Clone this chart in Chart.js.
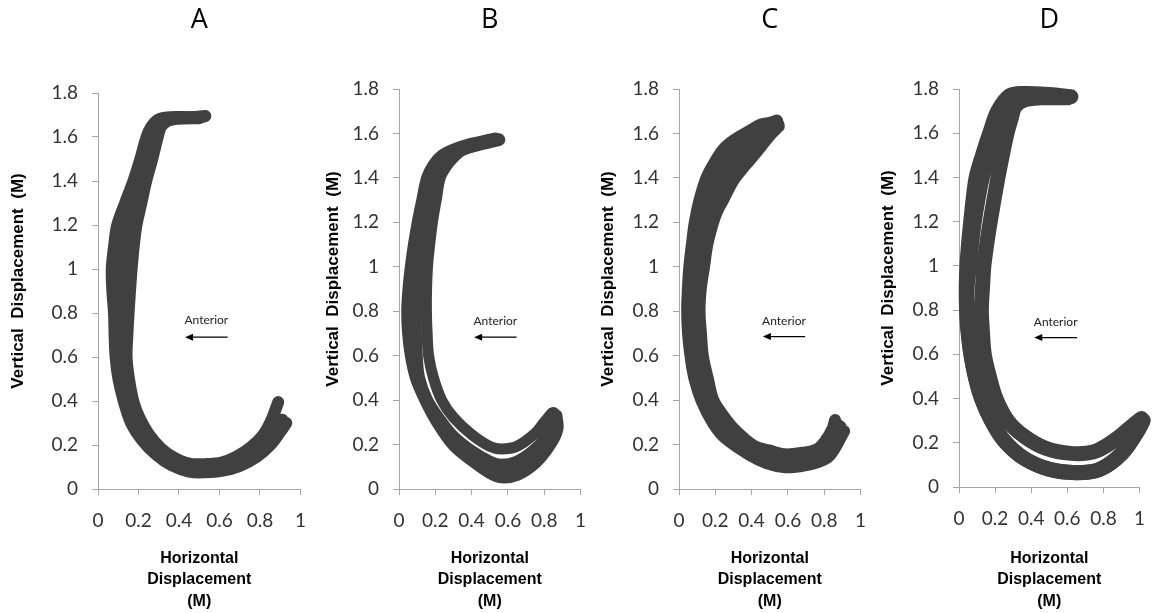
<!DOCTYPE html>
<html>
<head>
<meta charset="utf-8">
<script src="https://cdn.jsdelivr.net/npm/chart.js@4.4.1/dist/chart.umd.min.js"></script>
<style>
    html, body { margin: 0; padding: 0; background: #fff; }
    #wrap { position: relative; width: 1159px; height: 613px; overflow: hidden; }
    .panel { position: absolute; top: 0; height: 613px; }
</style>
</head>
<body>
<div id="wrap">
    <div class="panel" id="pA"><canvas id="cA"></canvas></div>
    <div class="panel" id="pB"><canvas id="cB"></canvas></div>
    <div class="panel" id="pC"><canvas id="cC"></canvas></div>
    <div class="panel" id="pD"><canvas id="cD"></canvas></div>
</div>
<script>
// axis ticks (metres)
const xTicks = [0, 0.2, 0.4, 0.6, 0.8, 1];
const xTickLabels = ['0', '0.2', '0.4', '0.6', '0.8', '1'];
const yTicks = [0, 0.2, 0.4, 0.6, 0.8, 1, 1.2, 1.4, 1.6, 1.8];
const yTickLabels = ['0', '0.2', '0.4', '0.6', '0.8', '1', '1.2', '1.4', '1.6', '1.8'];
const panelNames = ['A', 'B', 'C', 'D'];
const yTitle = 'Vertical  Displacement  (M)';
const xTitle = ['Horizontal', 'Displacement', '(M)'];

// Panel A - outer, middle and inner trials of the band
const aOuterX = [0.52, 0.44, 0.36, 0.3, 0.262, 0.24, 0.209, 0.175, 0.134, 0.095, 0.079, 0.068, 0.071, 0.079, 0.082, 0.087, 0.101, 0.127, 0.164, 0.219, 0.289, 0.363, 0.45, 0.53, 0.61, 0.698, 0.782, 0.855, 0.9, 0.93];
const aOuterY = [1.692, 1.69, 1.69, 1.68, 1.645, 1.6, 1.5, 1.4, 1.3, 1.2, 1.1, 1.0, 0.9, 0.8, 0.7, 0.6, 0.5, 0.4, 0.299, 0.221, 0.155, 0.108, 0.079, 0.076, 0.082, 0.104, 0.145, 0.204, 0.26, 0.3];
const aMidX = [0.53, 0.46, 0.38, 0.32, 0.285, 0.268, 0.238, 0.206, 0.174, 0.143, 0.128, 0.117, 0.115, 0.115, 0.114, 0.114, 0.127, 0.15, 0.185, 0.235, 0.3, 0.37, 0.45, 0.53, 0.61, 0.69, 0.77, 0.84, 0.88, 0.91];
const aMidY = [1.695, 1.69, 1.688, 1.676, 1.645, 1.6, 1.5, 1.4, 1.3, 1.2, 1.1, 1.0, 0.9, 0.8, 0.7, 0.6, 0.5, 0.4, 0.31, 0.235, 0.17, 0.125, 0.097, 0.095, 0.1, 0.125, 0.165, 0.22, 0.27, 0.315];
const aInnerX = [0.5, 0.42, 0.37, 0.34, 0.31, 0.295, 0.268, 0.238, 0.214, 0.19, 0.176, 0.166, 0.158, 0.151, 0.145, 0.141, 0.153, 0.174, 0.206, 0.251, 0.311, 0.377, 0.45, 0.53, 0.61, 0.682, 0.755, 0.815, 0.855, 0.89];
const aInnerY = [1.685, 1.684, 1.68, 1.672, 1.645, 1.6, 1.5, 1.4, 1.3, 1.2, 1.1, 1.0, 0.9, 0.8, 0.7, 0.6, 0.5, 0.4, 0.321, 0.249, 0.185, 0.142, 0.115, 0.113, 0.12, 0.146, 0.19, 0.245, 0.31, 0.395];

// Panel B - outer loop (two trials) and the separate inner loop
const bOuterX = [0.53, 0.45, 0.37, 0.3, 0.24, 0.195, 0.158, 0.131, 0.106, 0.085, 0.068, 0.055, 0.048, 0.053, 0.068, 0.096, 0.148, 0.214, 0.3, 0.4, 0.5, 0.564, 0.65, 0.75, 0.83, 0.87, 0.865];
const bOuterY = [1.575, 1.56, 1.545, 1.525, 1.5, 1.46, 1.4, 1.3, 1.2, 1.1, 1.0, 0.9, 0.8, 0.7, 0.6, 0.5, 0.4, 0.3, 0.201, 0.132, 0.075, 0.055, 0.065, 0.119, 0.2, 0.27, 0.33];
const bMidX = [0.55, 0.46, 0.38, 0.31, 0.25, 0.215, 0.19, 0.168, 0.145, 0.127, 0.112, 0.1, 0.092, 0.09, 0.095, 0.108, 0.152, 0.232, 0.3, 0.4, 0.5, 0.564, 0.65, 0.75, 0.81, 0.85];
const bMidY = [1.572, 1.555, 1.538, 1.515, 1.48, 1.44, 1.4, 1.3, 1.2, 1.1, 1.0, 0.9, 0.8, 0.7, 0.6, 0.5, 0.4, 0.3, 0.233, 0.168, 0.121, 0.107, 0.121, 0.176, 0.235, 0.34];
const bInnerX = [0.5, 0.42, 0.35, 0.3, 0.26, 0.227, 0.205, 0.184, 0.169, 0.157, 0.152, 0.151, 0.155, 0.163, 0.19, 0.235, 0.3, 0.4, 0.5, 0.564, 0.65, 0.75, 0.8, 0.84];
const bInnerY = [1.56, 1.545, 1.525, 1.49, 1.45, 1.4, 1.3, 1.2, 1.1, 1.0, 0.9, 0.8, 0.7, 0.6, 0.5, 0.4, 0.322, 0.245, 0.192, 0.18, 0.192, 0.25, 0.3, 0.34];

// Panel C - four trials spread across a wide band
const c1X = [0.54, 0.5, 0.45, 0.39, 0.32, 0.25, 0.2, 0.151, 0.113, 0.087, 0.071, 0.057, 0.049, 0.045, 0.05, 0.063, 0.084, 0.123, 0.188, 0.256, 0.388, 0.485, 0.586, 0.68, 0.76, 0.829, 0.91];
const c1Y = [1.658, 1.648, 1.64, 1.612, 1.579, 1.534, 1.475, 1.4, 1.3, 1.2, 1.1, 1.0, 0.9, 0.8, 0.7, 0.6, 0.5, 0.4, 0.296, 0.228, 0.154, 0.116, 0.098, 0.104, 0.12, 0.149, 0.26];
const c2X = [0.543, 0.5, 0.45, 0.39, 0.328, 0.268, 0.223, 0.182, 0.145, 0.121, 0.099, 0.084, 0.073, 0.068, 0.074, 0.086, 0.109, 0.145, 0.206, 0.273, 0.395, 0.488, 0.586, 0.68, 0.759, 0.826, 0.89];
const c2Y = [1.649, 1.629, 1.606, 1.568, 1.532, 1.488, 1.432, 1.367, 1.283, 1.2, 1.1, 1.0, 0.9, 0.8, 0.7, 0.6, 0.5, 0.4, 0.307, 0.241, 0.168, 0.135, 0.117, 0.123, 0.139, 0.167, 0.28];
const c3X = [0.547, 0.5, 0.45, 0.39, 0.337, 0.287, 0.247, 0.212, 0.178, 0.154, 0.128, 0.111, 0.096, 0.09, 0.097, 0.108, 0.133, 0.167, 0.226, 0.29, 0.404, 0.492, 0.586, 0.68, 0.758, 0.822, 0.875];
const c3Y = [1.641, 1.61, 1.573, 1.524, 1.484, 1.441, 1.388, 1.333, 1.267, 1.2, 1.1, 1.0, 0.9, 0.8, 0.7, 0.6, 0.5, 0.4, 0.319, 0.254, 0.181, 0.155, 0.137, 0.144, 0.158, 0.19, 0.29];
const c4X = [0.55, 0.5, 0.45, 0.39, 0.345, 0.305, 0.27, 0.243, 0.21, 0.188, 0.156, 0.138, 0.12, 0.113, 0.121, 0.131, 0.158, 0.189, 0.244, 0.307, 0.411, 0.495, 0.586, 0.68, 0.757, 0.805, 0.845, 0.86];
const c4Y = [1.632, 1.591, 1.539, 1.48, 1.437, 1.395, 1.345, 1.3, 1.25, 1.2, 1.1, 1.0, 0.9, 0.8, 0.7, 0.6, 0.5, 0.4, 0.33, 0.267, 0.195, 0.174, 0.156, 0.163, 0.177, 0.215, 0.27, 0.31];

// Panel D - two separate loops, the outer one made of two trials
const dOuterX = [0.62, 0.5, 0.36, 0.28, 0.215, 0.17, 0.13, 0.095, 0.078, 0.065, 0.053, 0.044, 0.04, 0.042, 0.05, 0.066, 0.09, 0.125, 0.18, 0.25, 0.36, 0.5, 0.65, 0.78, 0.9, 0.98, 1.02];
const dOuterY = [1.765, 1.775, 1.78, 1.77, 1.7, 1.6, 1.5, 1.4, 1.3, 1.2, 1.1, 1.0, 0.9, 0.8, 0.7, 0.6, 0.5, 0.4, 0.3, 0.21, 0.13, 0.08, 0.065, 0.08, 0.15, 0.24, 0.3];
const dOuter2X = [0.55, 0.42, 0.33, 0.29, 0.245, 0.21, 0.17, 0.13, 0.105, 0.085, 0.07, 0.058, 0.045, 0.044, 0.052, 0.066, 0.09, 0.125, 0.18, 0.25, 0.36, 0.5, 0.65, 0.78, 0.9, 0.98, 1.02];
const dOuter2Y = [1.77, 1.775, 1.77, 1.755, 1.69, 1.6, 1.5, 1.4, 1.3, 1.2, 1.1, 1.0, 0.9, 0.8, 0.7, 0.6, 0.5, 0.4, 0.3, 0.21, 0.13, 0.08, 0.065, 0.08, 0.15, 0.24, 0.3];
const dInnerX = [0.6, 0.45, 0.36, 0.31, 0.29, 0.266, 0.24, 0.216, 0.194, 0.173, 0.154, 0.138, 0.13, 0.124, 0.13, 0.14, 0.168, 0.205, 0.27, 0.36, 0.48, 0.62, 0.75, 0.86, 0.95, 1.01];
const dInnerY = [1.76, 1.76, 1.75, 1.72, 1.67, 1.6, 1.5, 1.4, 1.3, 1.2, 1.1, 1.0, 0.9, 0.8, 0.7, 0.6, 0.5, 0.4, 0.3, 0.23, 0.175, 0.152, 0.16, 0.21, 0.27, 0.31];

// "Anterior" arrows, in axis units
const arrowTailX = [0.64, 0.648, 0.695, 0.654];
const arrowHeadX = [0.43, 0.414, 0.462, 0.417];
const arrowY = [0.69, 0.683, 0.686, 0.676];
const anteriorLabelY = [0.768, 0.754, 0.754, 0.747];

const traces = [
    [[aOuterX, aOuterY], [aMidX, aMidY], [aInnerX, aInnerY]],
    [[bOuterX, bOuterY], [bMidX, bMidY], [bInnerX, bInnerY]],
    [[c1X, c1Y], [c2X, c2Y], [c3X, c3Y], [c4X, c4Y]],
    [[dOuterX, dOuterY], [dOuter2X, dOuter2Y], [dInnerX, dInnerY]]
];
// stroke widths (px) of each trace
const traceWidths = [[12, 12, 12], [13, 13, 11], [12, 12, 12, 12], [15, 15, 15]];

// where each panel sits on the page
const layout = [
    { box: 'pA', id: 'cA', left: 8, width: 312, plotLeft: 98, plotRight: 305, plotTop: 93, plotBottom: 489 },
    { box: 'pB', id: 'cB', left: 323, width: 277, plotLeft: 399, plotRight: 590, plotTop: 89, plotBottom: 489 },
    { box: 'pC', id: 'cC', left: 598, width: 282, plotLeft: 679, plotRight: 868, plotTop: 89, plotBottom: 489 },
    { box: 'pD', id: 'cD', left: 878, width: 281, plotLeft: 959, plotRight: 1149, plotTop: 89, plotBottom: 487 }
];

const axisGrey = '#a6a6a6';
const tickFont = { family: 'Lato, "Open Sans", sans-serif', size: 19 };
const titleFamily = '"Liberation Sans", Arial, sans-serif';

const decorPlugin = {
    id: 'decor',
    afterDatasetsDraw(chart, args, opts) {
        const { ctx, chartArea } = chart;
        const xs = chart.scales.x, ys = chart.scales.y;
        ctx.save();
        ctx.fillStyle = '#000';
        ctx.textAlign = 'center';
        ctx.textBaseline = 'middle';
        ctx.font = '27px "Open Sans", Lato, sans-serif';
        ctx.fillText(opts.name, (chartArea.left + chartArea.right) / 2, 20);

        // vertical axis title, sits a little above the middle of the axis
        ctx.save();
        ctx.translate(10, (chartArea.top + chartArea.bottom) / 2 - 10);
        ctx.rotate(-Math.PI / 2);
        ctx.font = 'bold 17px ' + titleFamily;
        ctx.fillText(yTitle, 0, 0);
        ctx.restore();

        // "Anterior" label with a left pointing arrow
        const tail = xs.getPixelForValue(opts.tail);
        const head = xs.getPixelForValue(opts.head);
        const ay = ys.getPixelForValue(opts.y);
        ctx.font = '12px Lato, "Open Sans", sans-serif';
        ctx.fillStyle = '#222';
        ctx.fillText('Anterior', (tail + head) / 2, ys.getPixelForValue(opts.labelY));
        ctx.strokeStyle = '#000';
        ctx.fillStyle = '#000';
        ctx.lineWidth = 1.3;
        ctx.beginPath();
        ctx.moveTo(tail, ay);
        ctx.lineTo(head + 6, ay);
        ctx.stroke();
        ctx.beginPath();
        ctx.moveTo(head, ay);
        ctx.lineTo(head + 8, ay - 3.5);
        ctx.lineTo(head + 8, ay + 3.5);
        ctx.closePath();
        ctx.fill();
        ctx.restore();
    }
};

function buildPanel(i) {
    const L = layout[i];
    const box = document.getElementById(L.box);
    box.style.left = L.left + 'px';
    box.style.width = L.width + 'px';

    const datasets = traces[i].map(([xs, ys], k) => ({
        data: xs.map((x, n) => ({ x: x, y: ys[n] })),
        showLine: true,
        borderColor: '#404040',
        borderWidth: traceWidths[i][k],
        borderCapStyle: 'round',
        borderJoinStyle: 'round',
        tension: 0.35,
        pointRadius: 0,
        fill: false,
        clip: false
    }));

    new Chart(document.getElementById(L.id), {
        type: 'scatter',
        data: { datasets: datasets },
        plugins: [decorPlugin],
        options: {
            responsive: true,
            maintainAspectRatio: false,
            animation: false,
            layout: { padding: { top: L.plotTop, right: L.left + L.width - L.plotRight, left: 0, bottom: 0 } },
            scales: {
                x: {
                    type: 'linear',
                    min: 0,
                    max: 1,
                    afterBuildTicks: axis => { axis.ticks = xTicks.map(v => ({ value: v })); },
                    afterFit: axis => { axis.height = 613 - L.plotBottom; },
                    grid: { display: true, drawOnChartArea: false, drawTicks: true, tickLength: 6, color: axisGrey },
                    border: { color: axisGrey },
                    ticks: {
                        padding: 14,
                        color: '#333',
                        font: tickFont,
                        maxRotation: 0,
                        callback: (v, idx) => xTickLabels[idx]
                    },
                    title: {
                        display: true,
                        text: xTitle,
                        color: '#000',
                        font: { family: titleFamily, size: 16, weight: 'bold', lineHeight: 1.34 },
                        padding: { top: 0, bottom: 1 }
                    }
                },
                y: {
                    type: 'linear',
                    min: 0,
                    max: 1.8,
                    afterBuildTicks: axis => { axis.ticks = yTicks.map(v => ({ value: v })); },
                    afterFit: axis => { axis.width = L.plotLeft - L.left; },
                    grid: { display: true, drawOnChartArea: false, drawTicks: true, tickLength: 6, color: axisGrey },
                    border: { color: axisGrey },
                    ticks: {
                        padding: 14,
                        color: '#333',
                        font: tickFont,
                        callback: (v, idx) => yTickLabels[idx]
                    },
                    title: { display: false }
                }
            },
            plugins: {
                legend: { display: false },
                tooltip: { enabled: false },
                decor: {
                    name: panelNames[i],
                    tail: arrowTailX[i],
                    head: arrowHeadX[i],
                    y: arrowY[i],
                    labelY: anteriorLabelY[i]
                }
            }
        }
    });
}

panelNames.forEach((n, i) => buildPanel(i));
</script>
</body>
</html>
